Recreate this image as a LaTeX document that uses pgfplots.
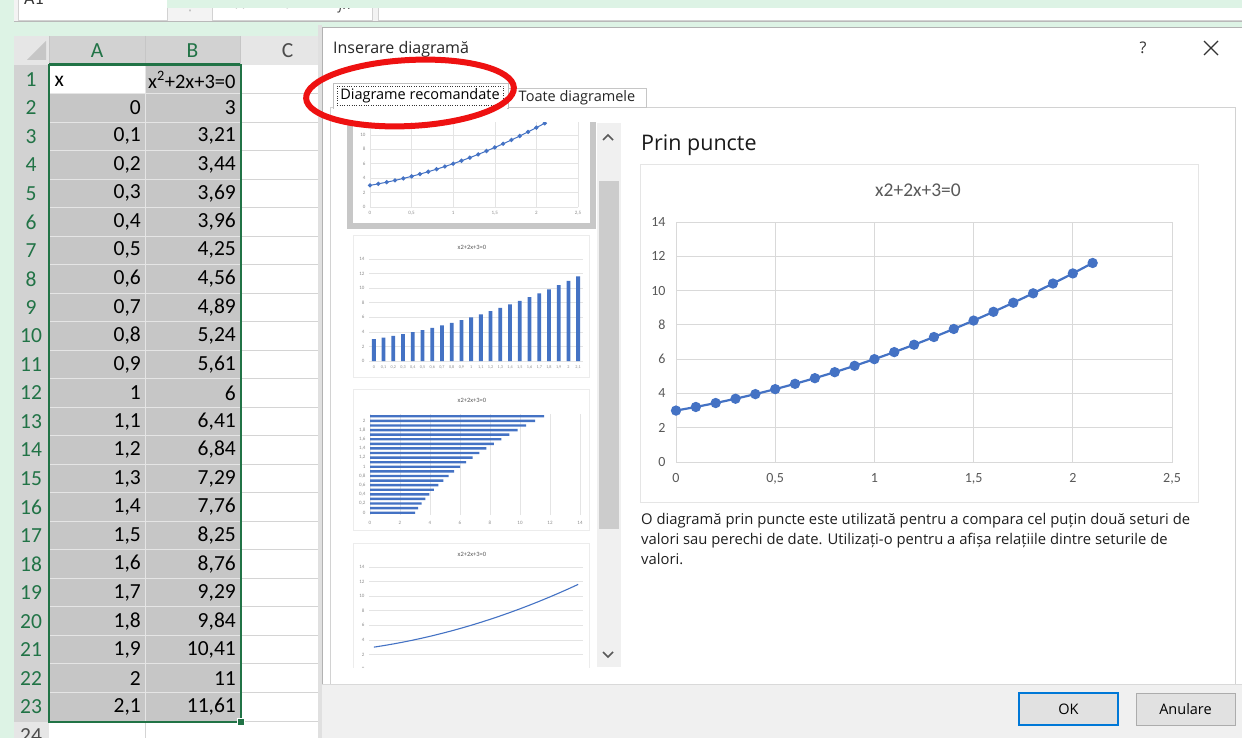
\documentclass[border=0pt]{standalone}
\usepackage{fontspec}
\setmainfont{Open Sans}
\newfontfamily\calibri{Carlito}
\newfontfamily\dejavu{DejaVu Sans}
\usepackage{pgfplots}
\usepackage{pgfplotstable}
\pgfplotsset{compat=1.18}
\definecolor{mint}{HTML}{DDF3E5}
\definecolor{xlgreen}{HTML}{217346}
\definecolor{hdr}{HTML}{E6E6E6}
\definecolor{hdrsel}{HTML}{D2D2D2}
\definecolor{selfill}{HTML}{C6C6C6}
\definecolor{cellgrid}{HTML}{D4D4D4}
\definecolor{xlblue}{HTML}{4472C4}
\definecolor{txtgray}{HTML}{595959}
\definecolor{thgray}{HTML}{8C8C8C}
\definecolor{chgrid}{HTML}{D9D9D9}
\definecolor{dlggray}{HTML}{F0F0F0}
\definecolor{btngray}{HTML}{E1E1E1}
\definecolor{okblue}{HTML}{0078D7}
\definecolor{ovalred}{HTML}{EE1111}
\definecolor{barbg}{HTML}{F3F3F3}
\newcommand{\fs}[1]{\fontsize{#1}{#1}\selectfont}

\pgfplotstableread{
idx x y
0 0 3
1 0.1 3.21
2 0.2 3.44
3 0.3 3.69
4 0.4 3.96
5 0.5 4.25
6 0.6 4.56
7 0.7 4.89
8 0.8 5.24
9 0.9 5.61
10 1.0 6
11 1.1 6.41
12 1.2 6.84
13 1.3 7.29
14 1.4 7.76
15 1.5 8.25
16 1.6 8.76
17 1.7 9.29
18 1.8 9.84
19 1.9 10.41
20 2.0 11
21 2.1 11.61
}\data

\pgfplotsset{thumb/.style={scale only axis, anchor=south west,
  major tick length=0pt, axis line style={draw=none},
  major grid style={draw=chgrid!70, line width=0.5pt},
  tick label style={font=\calibri\fs{5}, text=thgray},
  /pgf/number format/assume math mode=true,
  xticklabel style={yshift=-1pt}, yticklabel style={xshift=-1pt}}}

\begin{document}
\begin{tikzpicture}[x=1pt,y=-1pt]
\clip (0,0) rectangle (1242,738);
\fill[mint] (0,0) rectangle (1242,738);
% ---------- top bar ----------
\fill[barbg] (14,0) rectangle (1242,22);
\filldraw[fill=white,draw=gray!35] (18,-2) rectangle (167,20);
\filldraw[fill=white,draw=gray!35] (212,-2) rectangle (372,20);
\filldraw[fill=white,draw=gray!35] (378,-2) rectangle (1250,20);
\draw[gray!55] (14,21.5) -- (1242,21.5);
\begin{scope}
\clip (0,0) rectangle (1242,20);
\node[anchor=base west, text=black!80, inner sep=0] at (24,5) {\calibri\fs{18}A1};
\node[text=gray!60, inner sep=0] at (190,6) {\dejavu\fs{14}⋮};
\node[text=gray!60, inner sep=0] at (240,5) {\dejavu\fs{16}✕};
\node[text=gray!60, inner sep=0] at (290,5) {\dejavu\fs{16}✓};
\node[text=black!70, inner sep=0] at (345,6) {\fs{15}\itshape fx};
\node[text=black!80, inner sep=0] at (398,4) {\calibri\fs{18}x};
\end{scope}
\fill[mint] (167,0) rectangle (1242,8);
% ---------- spreadsheet ----------
\def\rh{28.52}
% column headers
\fill[hdr] (14,36) rectangle (340,65);
\fill[hdrsel] (49,36) rectangle (240,65);
\fill[gray!45] (27,60) -- (46,60) -- (46,41) -- cycle;
\draw[gray!45, line width=0.8pt] (49,36) -- (49,65) (145,36) -- (145,65) (240,36) -- (240,65) (335,36) -- (335,65);
\draw[gray!50] (14,65) -- (340,65);
\draw[xlgreen, line width=1.5pt] (49,64) -- (240,64);
\node[text=xlgreen] at (97,51) {\calibri\fs{21.5}A};
\node[text=xlgreen] at (192.5,51) {\calibri\fs{21.5}B};
\node[text=black!70] at (287.5,51) {\calibri\fs{21.5}C};
% row headers and cell fills
\foreach \k in {1,...,24}{
  \pgfmathsetmacro\yt{65+(\k-1)*\rh}
  \pgfmathsetmacro\yb{65+\k*\rh}
  \pgfmathsetmacro\ym{65+(\k-0.5)*\rh}
  \ifnum\k<24
    \fill[hdrsel] (14,\yt) rectangle (49,\yb);
    \node[text=xlgreen] at (31,\ym) {\calibri\fs{21.5}\k};
    \fill[selfill] (49,\yt) rectangle (240,\yb);
  \else
    \fill[hdr] (14,\yt) rectangle (49,\yb);
    \node[text=black!70] at (31,\ym) {\calibri\fs{21.5}\k};
    \fill[white] (49,\yt) rectangle (240,\yb);
  \fi
  \fill[white] (240,\yt) rectangle (340,\yb);
}
\fill[white] (49,65) rectangle (145,93.5);
% grid lines
\foreach \k in {1,...,24}{
  \pgfmathsetmacro\yb{65+\k*\rh}
  \draw[gray!35, line width=0.9pt] (14,\yb) -- (49,\yb);
  \draw[cellgrid, line width=0.9pt] (240,\yb) -- (340,\yb);
  \ifnum\k<23 \draw[white!90!black, line width=0.9pt] (49,\yb) -- (240,\yb); \else \draw[cellgrid, line width=0.9pt] (49,\yb) -- (240,\yb); \fi
}
\draw[white!90!black, line width=0.9pt] (145,65) -- (145,722);
\draw[cellgrid, line width=0.9pt] (335,65) -- (335,738) (145,722) -- (145,738);
\draw[xlgreen, line width=1.5pt] (48.5,65) -- (48.5,722);
\draw[xlgreen, line width=2pt] (49,65) rectangle (241,722);
\filldraw[fill=xlgreen, draw=white, line width=1pt] (237.5,718.5) rectangle (244.5,725.5);
% cell text
\node[anchor=west] at (51,81) {\calibri\fs{21.5}x};
\node[anchor=west, inner sep=1pt] at (147,80) {\calibri\fs{20.5}x\textsuperscript{2}+2x+3=0};
\foreach \k/\a/\b in {2/0/3,3/{0,1}/{3,21},4/{0,2}/{3,44},5/{0,3}/{3,69},6/{0,4}/{3,96},7/{0,5}/{4,25},8/{0,6}/{4,56},9/{0,7}/{4,89},10/{0,8}/{5,24},11/{0,9}/{5,61},12/1/6,13/{1,1}/{6,41},14/{1,2}/{6,84},15/{1,3}/{7,29},16/{1,4}/{7,76},17/{1,5}/{8,25},18/{1,6}/{8,76},19/{1,7}/{9,29},20/{1,8}/{9,84},21/{1,9}/{10,41},22/2/11,23/{2,1}/{11,61}}{
  \pgfmathsetmacro\ym{65+(\k-0.5)*\rh}
  \node[anchor=east, inner sep=1pt] at (142,\ym) {\calibri\fs{21.5}\a};
  \node[anchor=east, inner sep=1pt] at (237,\ym) {\calibri\fs{21.5}\b};
}
% ---------- dialog ----------
\fill[black!12] (318,25) rectangle (322,738);
\filldraw[fill=white, draw=gray!60] (322,27) rectangle (1250,750);
\node[anchor=base west, inner sep=0, text=black!85] at (333,54) {\fs{16}Inserare diagramă};
\node[text=black!80] at (1143,48) {\fs{16}?};
\draw[line width=1.1pt, black!80] (1204,41) -- (1218,55) (1204,55) -- (1218,41);
% panel
\filldraw[fill=white, draw=gray!35] (330,107) rectangle (1235,684);
% tabs
\filldraw[fill=white, draw=gray!45] (508,88) rectangle (646,107);
\node[text=black!85] at (577,98) {\fs{14.5}Toate diagramele};
\filldraw[fill=white, draw=gray!50] (333,83) rectangle (508,108);
\fill[white] (333.6,106.5) rectangle (507.4,109);
\draw[dotted, black!80] (337,86) rectangle (503,105);
\node[text=black] at (420,96) {\fs{14.5}Diagrame recomandate};
% bottom band
\fill[dlggray] (322,685) rectangle (1242,738);
\draw[gray!30] (322,684.5) -- (1242,684.5);
\filldraw[fill=btngray, draw=okblue, line width=2pt] (1019,693) rectangle (1118,725);
\node at (1068.5,709) {\fs{14.5}OK};
\filldraw[fill=btngray, draw=gray!65] (1136,693) rectangle (1235,725);
\node at (1185.5,709) {\fs{14.5}Anulare};
% scroll bar
\fill[dlggray] (597,123) rectangle (621,667);
\fill[black!20] (599,181) rectangle (619,529);
\draw[line width=1.5pt, black!65] (603,140) -- (608,135) -- (613,140);
\draw[line width=1.5pt, black!65] (603,652) -- (608,657) -- (613,652);
% ---------- thumbnails ----------
\begin{scope}
\clip (345,123) rectangle (597,667);
% thumb 1 (selected)
\fill[black!22] (347,90) rectangle (596,229);
\fill[white] (353,90) rectangle (590,223);
\begin{axis}[thumb, at={(370pt,-207pt)}, width=208pt, height=101pt,
  xmin=0, xmax=2.5, ymin=0, ymax=14,
  xtick={0,0.5,1,1.5,2,2.5}, xticklabels={0,{0,5},1,{1,5},2,{2,5}},
  ytick={0,2,4,6,8,10,12,14}, grid=major]
\addplot[xlblue, line width=1pt, mark=*, mark size=1.6pt] table[x=x,y=y]{\data};
\end{axis}
% thumb 2 (columns)
\filldraw[fill=white, draw=gray!15] (353,235) rectangle (589,377);
\node[text=txtgray] at (472,247) {\calibri\fs{6.5}x2+2x+3=0};
\begin{axis}[thumb, at={(369pt,-361pt)}, width=214pt, height=102pt,
  xmin=-0.5, xmax=21.5, ymin=0, ymax=14,
  xtick={0,...,21}, xticklabels={0,{0,1},{0,2},{0,3},{0,4},{0,5},{0,6},{0,7},{0,8},{0,9},1,{1,1},{1,2},{1,3},{1,4},{1,5},{1,6},{1,7},{1,8},{1,9},2,{2,1}},
  ytick={0,2,4,6,8,10,12,14}, ymajorgrids,
  xticklabel style={font=\calibri\fs{4.2}}]
\addplot[ybar, bar width=3.8pt, bar shift=0pt, fill=xlblue, draw=none] table[x=idx,y=y]{\data};
\end{axis}
% thumb 3 (bars)
\filldraw[fill=white, draw=gray!15] (353,389) rectangle (589,530);
\node[text=txtgray] at (472,400) {\calibri\fs{6.5}x2+2x+3=0};
\begin{axis}[thumb, at={(370pt,-515pt)}, width=210pt, height=101pt,
  xmin=0, xmax=14, ymin=-0.5, ymax=21.5,
  xtick={0,2,4,6,8,10,12,14},
  ytick={0,2,4,6,8,10,12,14,16,18,20}, yticklabels={0,{0,2},{0,4},{0,6},{0,8},1,{1,2},{1,4},{1,6},{1,8},2},
  xmajorgrids, xticklabel style={yshift=-2pt}]
\addplot[xbar, bar width=2.4pt, bar shift=0pt, fill=xlblue, draw=none] table[x=y,y=idx]{\data};
\end{axis}
% thumb 4 (line)
\filldraw[fill=white, draw=gray!15] (353,543) rectangle (589,700);
\node[text=txtgray] at (472,554) {\calibri\fs{6.5}x2+2x+3=0};
\begin{axis}[thumb, at={(369pt,-669pt)}, width=214pt, height=102pt,
  xmin=-0.5, xmax=21.5, ymin=0, ymax=14, xtick=\empty,
  ytick={0,2,4,6,8,10,12,14}, ymajorgrids]
\addplot[xlblue, line width=1.1pt, no marks] table[x=idx,y=y]{\data};
\end{axis}
\end{scope}
% ---------- main preview ----------
\node[anchor=base west, inner sep=0, text=black!90] at (641,151) {\fs{21.5}Prin puncte};
\draw[gray!20] (640,164) rectangle (1198,502);
\node[text=txtgray] at (918,190) {\calibri\fs{19.5}x2+2x+3=0};
\begin{axis}[at={(676pt,-462pt)}, anchor=south west, scale only axis,
  width=496pt, height=240pt,
  xmin=0, xmax=2.5, ymin=0, ymax=14,
  xtick={0,0.5,1,1.5,2,2.5}, xticklabels={0,{0,5},1,{1,5},2,{2,5}},
  ytick={0,2,4,6,8,10,12,14},
  grid=major, major grid style={draw=chgrid, line width=0.9pt},
  axis line style={draw=chgrid, line width=0.9pt},
  major tick length=0pt,
  tick label style={font=\calibri\fs{14}, text=txtgray},
  xticklabel style={yshift=-8pt}, yticklabel style={xshift=-7pt},
  /pgf/number format/assume math mode=true]
\addplot[xlblue, line width=2.2pt, mark=*, mark size=4pt, mark options={fill=xlblue, draw=xlblue}] table[x=x,y=y]{\data};
\end{axis}
\node[anchor=north west, align=left, text=black!88, inner sep=0,
  font=\fontsize{14.8}{20}\selectfont] at (641,513)
 {O diagramă prin puncte este utilizată pentru a compara cel puțin două seturi de\\
 valori sau perechi de date. Utilizați-o pentru a afișa relațiile dintre seturile de\\
 valori.};
% ---------- red oval ----------
\draw[ovalred, line width=6pt, rotate around={3:(410,93)}] (410,93) ellipse [x radius=104pt, y radius=33pt];
\end{tikzpicture}
\end{document}
